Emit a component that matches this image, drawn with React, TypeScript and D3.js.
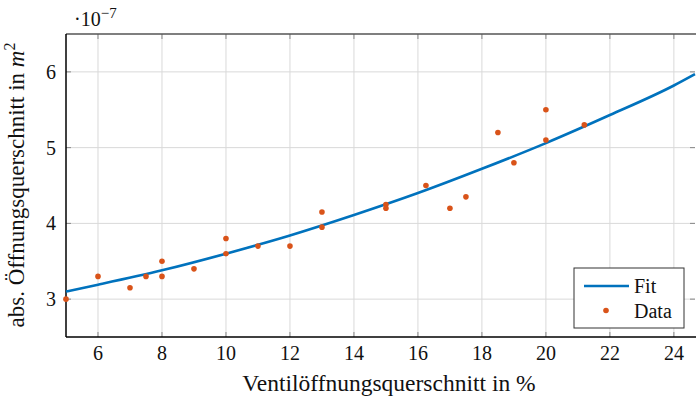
import React, { useEffect, useRef } from 'react';
import * as d3 from 'd3';

// measured points (x in %, y in 1e-7 m^2)
const dataX = [5, 6, 7, 7.5, 8, 8, 9, 10, 10, 11, 12, 13, 13, 15, 15, 16.25, 17, 17.5, 18.5, 19, 20, 20, 21.2];
const dataY = [3.0, 3.3, 3.15, 3.3, 3.5, 3.3, 3.4, 3.8, 3.6, 3.7, 3.7, 4.15, 3.95, 4.25, 4.2, 4.5, 4.2, 4.35, 5.2, 4.8, 5.5, 5.1, 5.3];

// fit curve
const fitX = [5, 6, 8, 10, 12, 14, 16, 18, 20, 22, 24, 24.66];
const fitY = [3.1, 3.19, 3.38, 3.6, 3.84, 4.11, 4.4, 4.72, 5.06, 5.43, 5.82, 5.97];

const xTicks = [6, 8, 10, 12, 14, 16, 18, 20, 22, 24];
const yTicks = [3, 4, 5, 6];

const W = 696;
const H = 398;
const m = { left: 66, right: 695, top: 34, bottom: 337 };
const blue = '#0072BD';
const orange = '#D95319';
const font = '"Liberation Serif", "Times New Roman", serif';

export default function App() {
  const ref = useRef<SVGSVGElement>(null);

  useEffect(() => {
    const svg = d3.select(ref.current);
    svg.selectAll('*').remove();

    const x = d3.scaleLinear().domain([5, 24.66]).range([m.left, m.right]);
    const y = d3.scaleLinear().domain([2.5, 6.5]).range([m.bottom, m.top]);

    // grid
    const grid = svg.append('g').attr('stroke', '#d9d9d9').attr('stroke-width', 1);
    xTicks.forEach(t => {
      grid.append('line').attr('x1', x(t)).attr('x2', x(t)).attr('y1', m.top).attr('y2', m.bottom);
    });
    yTicks.forEach(t => {
      grid.append('line').attr('x1', m.left).attr('x2', m.right).attr('y1', y(t)).attr('y2', y(t));
    });

    // tick marks inside on all four sides
    const ticks = svg.append('g').attr('stroke', '#888').attr('stroke-width', 1);
    xTicks.forEach(t => {
      ticks.append('line').attr('x1', x(t)).attr('x2', x(t)).attr('y1', m.bottom).attr('y2', m.bottom - 5);
      ticks.append('line').attr('x1', x(t)).attr('x2', x(t)).attr('y1', m.top).attr('y2', m.top + 5);
    });
    yTicks.forEach(t => {
      ticks.append('line').attr('x1', m.left).attr('x2', m.left + 5).attr('y1', y(t)).attr('y2', y(t));
      ticks.append('line').attr('x1', m.right).attr('x2', m.right - 5).attr('y1', y(t)).attr('y2', y(t));
    });

    // box
    svg.append('line').attr('x1', m.left).attr('x2', m.right + 1).attr('y1', m.top).attr('y2', m.top)
      .attr('stroke', '#555').attr('stroke-width', 1.3);
    svg.append('line').attr('x1', m.left).attr('x2', m.right + 1).attr('y1', m.bottom).attr('y2', m.bottom)
      .attr('stroke', '#000').attr('stroke-width', 1.5);
    svg.append('line').attr('x1', m.left).attr('x2', m.left).attr('y1', m.top).attr('y2', m.bottom)
      .attr('stroke', '#000').attr('stroke-width', 1.5);

    // fit curve
    const line = d3.line<number>()
      .x((d, i) => x(fitX[i]))
      .y(d => y(d))
      .curve(d3.curveMonotoneX);
    svg.append('path')
      .datum(fitY)
      .attr('d', line)
      .attr('fill', 'none')
      .attr('stroke', blue)
      .attr('stroke-width', 2.6);

    // data points
    svg.append('g')
      .selectAll('circle')
      .data(dataY)
      .enter()
      .append('circle')
      .attr('cx', (d, i) => x(dataX[i]))
      .attr('cy', d => y(d))
      .attr('r', 2.8)
      .attr('fill', orange);

    // tick labels
    const lab = svg.append('g').attr('font-family', font).attr('font-size', 20).attr('fill', '#111');
    xTicks.forEach(t => {
      lab.append('text').attr('x', x(t)).attr('y', m.bottom + 23).attr('text-anchor', 'middle').text(t);
    });
    yTicks.forEach(t => {
      lab.append('text').attr('x', m.left - 10).attr('y', y(t) + 7).attr('text-anchor', 'end').text(t);
    });

    // exponent
    const ex = svg.append('text').attr('x', 74).attr('y', 26).attr('font-family', font).attr('font-size', 20).attr('fill', '#111');
    ex.append('tspan').text('·10');
    ex.append('tspan').attr('dy', -8).attr('font-size', 15).text('−7');

    // axis titles
    svg.append('text')
      .attr('x', 389)
      .attr('y', 391)
      .attr('text-anchor', 'middle')
      .attr('font-family', font)
      .attr('font-size', 23.5)
      .attr('fill', '#111')
      .text('Ventilöffnungsquerschnitt in %');

    const yl = svg.append('text')
      .attr('transform', `translate(24, 185) rotate(-90)`)
      .attr('text-anchor', 'middle')
      .attr('font-family', font)
      .attr('font-size', 23)
      .attr('fill', '#111');
    yl.append('tspan').text('abs. Öffnungsquerschnitt in ');
    yl.append('tspan').attr('font-style', 'italic').text('m');
    yl.append('tspan').attr('dy', -9).attr('font-size', 16).text('2');

    // legend
    const lg = svg.append('g');
    lg.append('rect').attr('x', 574).attr('y', 268).attr('width', 110).attr('height', 60)
      .attr('fill', '#fff').attr('stroke', '#333').attr('stroke-width', 1);
    lg.append('line').attr('x1', 584).attr('x2', 629).attr('y1', 286).attr('y2', 286)
      .attr('stroke', blue).attr('stroke-width', 2.6);
    lg.append('circle').attr('cx', 606).attr('cy', 310.5).attr('r', 2.8).attr('fill', orange);
    lg.append('text').attr('x', 634).attr('y', 293).attr('font-family', font).attr('font-size', 20).attr('fill', '#111').text('Fit');
    lg.append('text').attr('x', 634).attr('y', 317.5).attr('font-family', font).attr('font-size', 20).attr('fill', '#111').text('Data');
  }, []);

  return (
    <div style={{ position: 'absolute', left: 0, top: 0, width: W, height: H, background: '#fff' }}>
      <svg ref={ref} width={W} height={H} />
    </div>
  );
}
